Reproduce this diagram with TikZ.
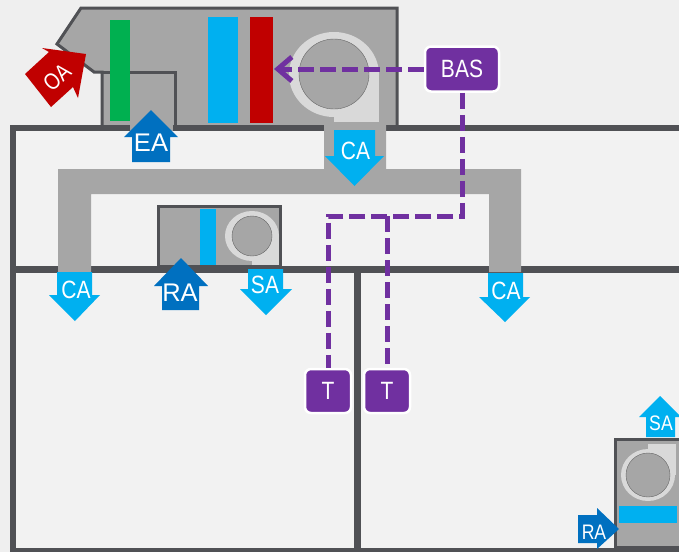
\documentclass[tikz,border=0pt]{standalone}
\usepackage{fontspec}
\setmainfont{Liberation Sans}
\newfontfamily\narrowfont[FakeStretch=0.84]{Liberation Sans}
\usetikzlibrary{arrows.meta, positioning}
\definecolor{wallgray}{HTML}{505155}
\definecolor{ductgray}{HTML}{A6A6A6}
\definecolor{fangray}{HTML}{D9D9D9}
\definecolor{roomgray}{HTML}{F2F2F2}
\definecolor{outgray}{HTML}{EFEFEF}
\definecolor{airblue}{HTML}{00B0F0}
\definecolor{darkblue}{HTML}{0070C0}
\definecolor{coilred}{HTML}{C00000}
\definecolor{coilgreen}{HTML}{00B050}
\definecolor{controlpurple}{HTML}{7030A0}
\tikzset{
  wall/.style={wallgray,line width=6.5pt},
  casing/.style={draw=wallgray,line width=3pt,fill=ductgray},
  flowlabel/.style={text=white,inner sep=0pt,font=\narrowfont\fontsize{25}{25}\selectfont},
  widelabel/.style={text=white,inner sep=0pt,font=\fontsize{25.5}{25.5}\selectfont},
  smalllabel/.style={text=white,inner sep=0pt,font=\narrowfont\fontsize{21}{21}\selectfont},
  controlbox/.style={draw=white,line width=2.5pt,fill=controlpurple,rounded corners=6pt,text=white,
    inner sep=0pt,font=\narrowfont\fontsize{25}{25}\selectfont},
  controlline/.style={controlpurple,line width=5pt,dash pattern=on 16pt off 6pt}
}

\begin{document}
\begin{tikzpicture}[x=1pt,y=-1pt]
  \useasboundingbox (0,0) rectangle (679,552);
  % 背景
  \fill[outgray] (0,0) rectangle (679,552);
  \fill[roomgray] (13,128) rectangle (679,552);

  % 屋顶机组
  \fill[ductgray] (81,8) -- (397,8) -- (397,128) -- (102,128) -- (102,72) -- (94,72) -- (57,44) -- cycle;
  \draw[wallgray,line width=3pt] (102,128) -- (102,72) -- (94,72) -- (57,44) -- (81,8) -- (397,8) -- (397,128);
  \draw[wallgray,line width=3pt] (102,72) -- (175,72) -- (175,128);
  \fill[coilgreen] (110,20) rectangle (130,121);
  \fill[airblue] (208,17) rectangle (238,123);
  \fill[coilred] (250,17) rectangle (273,123);
  % 风机
  \fill[fangray] (334,74.5) ellipse (45 and 42.5);
  \fill[fangray] (334,74.5) rectangle (379,122);
  \filldraw[fill=ductgray,draw=gray!80!black] (334,74) circle (35);

  % 墙
  \draw[wall] (679,128) -- (13,128) -- (13,552);
  \draw[wall] (13,269.5) -- (679,269.5);
  \draw[wall] (357.5,269.5) -- (357.5,552);
  \draw[wallgray,line width=4pt] (13,550) -- (679,550);
  \fill[ductgray] (130,125) rectangle (173,131);

  % 风管
  \fill[ductgray] (324,122) -- (386,122) -- (386,169) -- (521,169) -- (521,272) -- (489,272) -- (489,194)
    -- (91,194) -- (91,272) -- (58,272) -- (58,169) -- (324,169) -- cycle;

  % 中间机组
  \filldraw[casing] (158.5,206.5) rectangle (280.5,266);
  \fill[airblue] (200,209) rectangle (216,265);
  \fill[fangray] (252,236) ellipse (27 and 25);
  \fill[fangray] (252,236) rectangle (279,265);
  \filldraw[fill=ductgray,draw=gray!80!black] (252,236) circle (20);

  % 右下机组
  \filldraw[casing] (615.5,439.5) rectangle (682,547);
  \fill[fangray] (648,475) ellipse (27 and 26);
  \fill[fangray] (648,444) rectangle (676,475);
  \filldraw[fill=ductgray,draw=gray!80!black] (648,475) circle (22);
  \fill[airblue] (619,506) rectangle (677,523);

  % 箭头
  \fill[coilred] (25,74) -- (49,52) -- (42,48) -- (86,54) -- (78,98) -- (73,87) -- (51,107) -- cycle;
  \fill[darkblue] (132,162) -- (132,137) -- (124,137) -- (151,110) -- (178,137) -- (170,137) -- (170,162) -- cycle;
  \fill[airblue] (334,130) -- (375,130) -- (375,156) -- (384,156) -- (354.5,186) -- (325,156) -- (334,156) -- cycle;
  \fill[airblue] (57,272) -- (92,272) -- (92,295) -- (100,295) -- (75,321) -- (49,295) -- (57,295) -- cycle;
  \fill[airblue] (488,273) -- (523,273) -- (523,297) -- (530,297) -- (505,322) -- (479,297) -- (488,297) -- cycle;
  \fill[airblue] (248,269) -- (283,269) -- (283,289) -- (292,289) -- (266,315) -- (240,289) -- (248,289) -- cycle;
  \fill[darkblue] (162,310) -- (162,286) -- (154,286) -- (181,258) -- (208,286) -- (199,286) -- (199,310) -- cycle;
  \fill[airblue] (646,437) -- (646,417) -- (639,417) -- (660,396) -- (681,417) -- (675,417) -- (675,437) -- cycle;
  \fill[darkblue] (578,515) -- (597,515) -- (597,508) -- (619,529) -- (597,549) -- (597,543) -- (578,543) -- cycle;

  % 标签
  \node[smalllabel,font=\narrowfont\fontsize{23}{23}\selectfont,rotate=42] (oa) at (57,77) {OA};
  \node[widelabel] (ea) at (151,143) {EA};
  \node[flowlabel] (catop) at (355.5,150.5) {CA};
  \node[flowlabel] (caleft) at (76,290) {CA};
  \node[flowlabel] (caright) at (506,291) {CA};
  \node[flowlabel] (samid) at (265,285) {SA};
  \node[widelabel] (ramid) at (180,293) {RA};
  \node[smalllabel] (saroom) at (661,423) {SA};
  \node[smalllabel] (raroom) at (594,532) {RA};

  % 控制
  \node[controlbox,minimum width=74pt,minimum height=45pt] (bas) at (462,69) {BAS};
  \node[controlbox,minimum width=46pt,minimum height=44pt] (t1) at (328,391) {T};
  \node[controlbox,minimum width=46pt,minimum height=44pt] (t2) at (387,391) {T};
  \coordinate (tee) at (328,216);
  \coordinate (coiltip) at (274,69);
  \draw[controlline,-{Straight Barb[length=14pt,width=24pt]}] (bas.west) -- (coiltip);
  \draw[controlline] (bas.south) |- (tee) -- (t1.north);
  \draw[controlline] (t2.north |- tee) -- (t2.north);
\end{tikzpicture}
\end{document}
